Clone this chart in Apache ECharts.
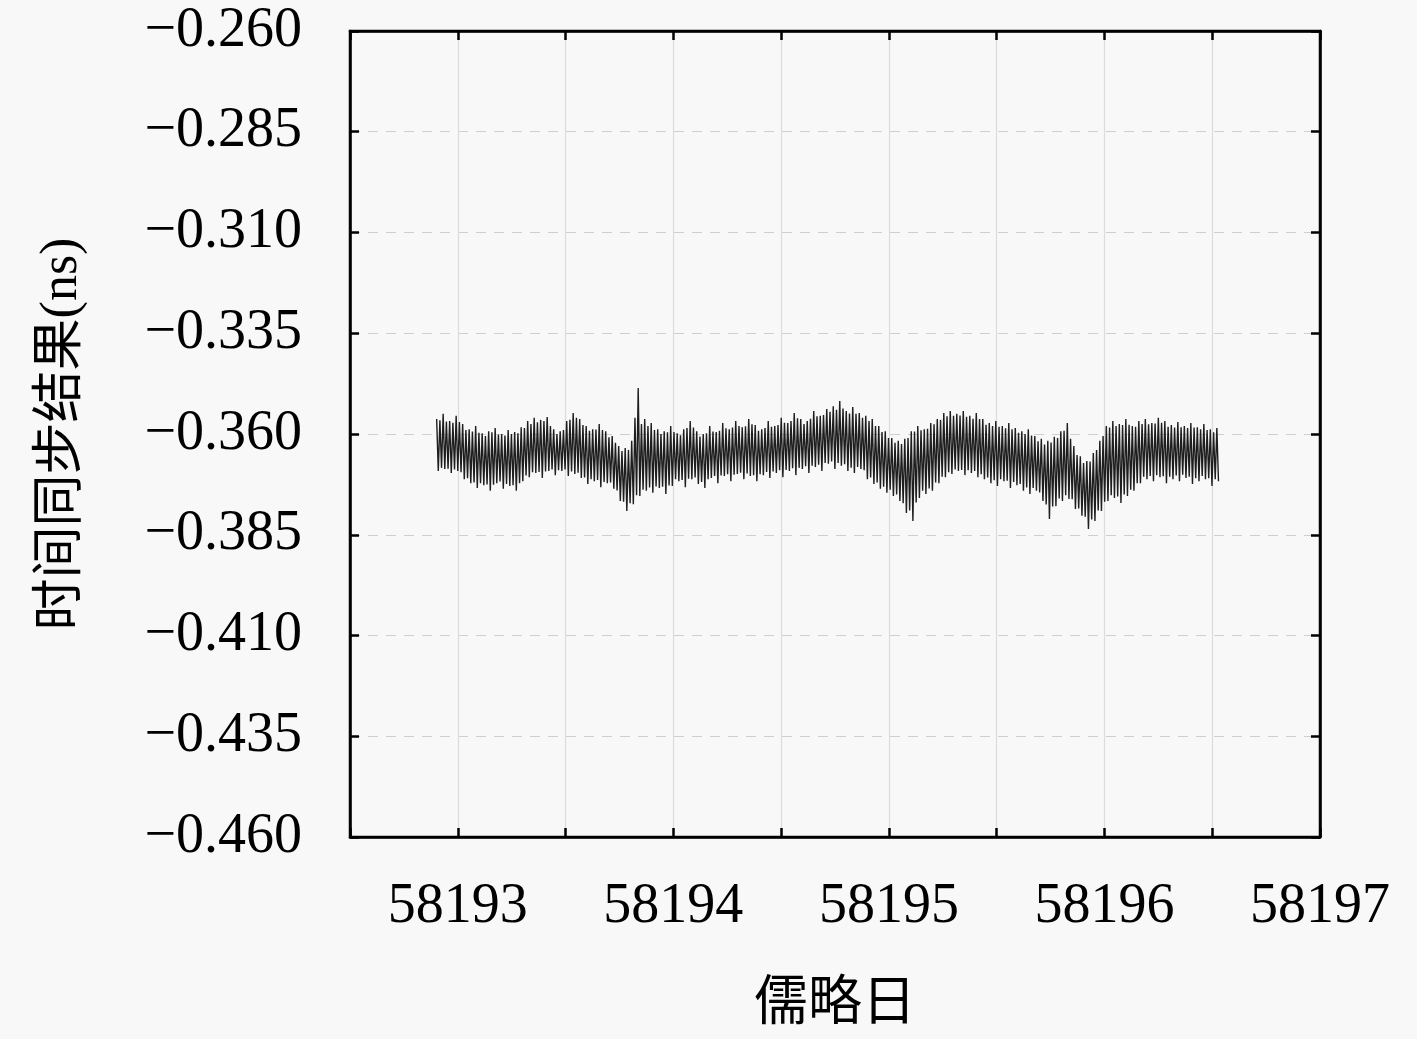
<!DOCTYPE html>
<html>
<head>
<meta charset="utf-8">
<script src="https://cdn.jsdelivr.net/npm/echarts@6/dist/echarts.min.js"></script>
<style>
  html, body { margin: 0; padding: 0; background: #f8f8f8; }
  #main { width: 1417px; height: 1039px; }
</style>
</head>
<body>
<div id="main"></div>
<script>
// 时间同步结果 (ns)，数据从图上读出：长笔画的上沿/下沿，以及其间较短笔画的上下端
var startDay = 58192.902;
var endDay = 58196.529;

var upperEdge = [
  -0.3563, -0.3550, -0.3568, -0.3555, -0.3575, -0.3588, -0.3580, -0.3598, -0.3593, -0.3585,
  -0.3600, -0.3590, -0.3595, -0.3583, -0.3568, -0.3560, -0.3565, -0.3558, -0.3588, -0.3593,
  -0.3568, -0.3548, -0.3563, -0.3580, -0.3588, -0.3575, -0.3593, -0.3605, -0.3630, -0.3635,
  -0.3617, -0.3486, -0.3563, -0.3573, -0.3588, -0.3593, -0.3580, -0.3598, -0.3588, -0.3568,
  -0.3593, -0.3600, -0.3580, -0.3595, -0.3573, -0.3588, -0.3568, -0.3583, -0.3563, -0.3578,
  -0.3588, -0.3568, -0.3580, -0.3560, -0.3573, -0.3548, -0.3563, -0.3568, -0.3543, -0.3555,
  -0.3538, -0.3531, -0.3518, -0.3543, -0.3533, -0.3548, -0.3555, -0.3563, -0.3580, -0.3593,
  -0.3610, -0.3617, -0.3612, -0.3593, -0.3580, -0.3588, -0.3573, -0.3563, -0.3548, -0.3543,
  -0.3550, -0.3543, -0.3555, -0.3548, -0.3563, -0.3573, -0.3568, -0.3580, -0.3573, -0.3585,
  -0.3593, -0.3588, -0.3605, -0.3612, -0.3617, -0.3607, -0.3593, -0.3573, -0.3630, -0.3655,
  -0.3667, -0.3647, -0.3617, -0.3580, -0.3568, -0.3575, -0.3563, -0.3580, -0.3568, -0.3563,
  -0.3573, -0.3560, -0.3568, -0.3578, -0.3570, -0.3580, -0.3573, -0.3583, -0.3575, -0.3588,
  -0.3585
];

var lowerEdge = [
  -0.3692, -0.3687, -0.3697, -0.3692, -0.3712, -0.3722, -0.3734, -0.3727, -0.3741, -0.3722,
  -0.3736, -0.3729, -0.3741, -0.3717, -0.3707, -0.3697, -0.3709, -0.3692, -0.3702, -0.3692,
  -0.3704, -0.3699, -0.3709, -0.3724, -0.3717, -0.3732, -0.3722, -0.3736, -0.3766, -0.3791,
  -0.3774, -0.3754, -0.3741, -0.3746, -0.3734, -0.3749, -0.3729, -0.3717, -0.3732, -0.3712,
  -0.3724, -0.3734, -0.3709, -0.3722, -0.3704, -0.3717, -0.3699, -0.3712, -0.3704, -0.3717,
  -0.3702, -0.3709, -0.3697, -0.3707, -0.3692, -0.3702, -0.3687, -0.3697, -0.3682, -0.3692,
  -0.3674, -0.3687, -0.3679, -0.3692, -0.3697, -0.3687, -0.3712, -0.3724, -0.3736, -0.3746,
  -0.3754, -0.3766, -0.3796, -0.3816, -0.3759, -0.3749, -0.3741, -0.3722, -0.3707, -0.3699,
  -0.3692, -0.3702, -0.3697, -0.3707, -0.3712, -0.3722, -0.3729, -0.3717, -0.3734, -0.3727,
  -0.3741, -0.3749, -0.3741, -0.3766, -0.3811, -0.3779, -0.3766, -0.3761, -0.3786, -0.3803,
  -0.3836, -0.3816, -0.3791, -0.3766, -0.3759, -0.3771, -0.3754, -0.3741, -0.3722, -0.3712,
  -0.3717, -0.3707, -0.3722, -0.3712, -0.3717, -0.3709, -0.3724, -0.3717, -0.3712, -0.3729,
  -0.3717
];

// 短笔画（位于上面每两根长笔画之间）
var upperShort = [
  -0.3566, -0.3569, -0.3572, -0.3570, -0.3590, -0.3594, -0.3597, -0.3605, -0.3596, -0.3601,
  -0.3604, -0.3600, -0.3598, -0.3585, -0.3575, -0.3571, -0.3568, -0.3580, -0.3600, -0.3590,
  -0.3565, -0.3560, -0.3578, -0.3592, -0.3589, -0.3590, -0.3608, -0.3622, -0.3642, -0.3640,
  -0.3560, -0.3575, -0.3580, -0.3590, -0.3600, -0.3596, -0.3595, -0.3603, -0.3585, -0.3584,
  -0.3606, -0.3598, -0.3594, -0.3592, -0.3586, -0.3584, -0.3580, -0.3581, -0.3576, -0.3592,
  -0.3585, -0.3582, -0.3578, -0.3572, -0.3568, -0.3561, -0.3575, -0.3562, -0.3556, -0.3553,
  -0.3545, -0.3540, -0.3537, -0.3549, -0.3550, -0.3560, -0.3568, -0.3580, -0.3595, -0.3610,
  -0.3622, -0.3625, -0.3610, -0.3594, -0.3591, -0.3587, -0.3576, -0.3565, -0.3556, -0.3555,
  -0.3554, -0.3557, -0.3562, -0.3563, -0.3577, -0.3580, -0.3582, -0.3586, -0.3588, -0.3597,
  -0.3600, -0.3604, -0.3618, -0.3626, -0.3621, -0.3610, -0.3592, -0.3612, -0.3652, -0.3672,
  -0.3668, -0.3640, -0.3605, -0.3584, -0.3580, -0.3578, -0.3577, -0.3582, -0.3575, -0.3576,
  -0.3574, -0.3572, -0.3582, -0.3584, -0.3583, -0.3585, -0.3584, -0.3588, -0.3590, -0.3596
];

var lowerShort = [
  -0.3684, -0.3686, -0.3688, -0.3695, -0.3710, -0.3720, -0.3722, -0.3725, -0.3726, -0.3718,
  -0.3724, -0.3727, -0.3722, -0.3703, -0.3695, -0.3694, -0.3693, -0.3688, -0.3690, -0.3688,
  -0.3693, -0.3696, -0.3708, -0.3712, -0.3714, -0.3719, -0.3720, -0.3740, -0.3768, -0.3772,
  -0.3752, -0.3738, -0.3733, -0.3730, -0.3731, -0.3728, -0.3712, -0.3714, -0.3711, -0.3708,
  -0.3719, -0.3712, -0.3704, -0.3703, -0.3700, -0.3701, -0.3696, -0.3698, -0.3702, -0.3700,
  -0.3694, -0.3693, -0.3690, -0.3689, -0.3685, -0.3684, -0.3680, -0.3679, -0.3676, -0.3672,
  -0.3668, -0.3672, -0.3675, -0.3684, -0.3682, -0.3690, -0.3708, -0.3720, -0.3731, -0.3738,
  -0.3750, -0.3772, -0.3790, -0.3770, -0.3741, -0.3735, -0.3720, -0.3706, -0.3695, -0.3688,
  -0.3689, -0.3690, -0.3692, -0.3700, -0.3708, -0.3715, -0.3712, -0.3716, -0.3719, -0.3724,
  -0.3733, -0.3734, -0.3745, -0.3775, -0.3780, -0.3760, -0.3752, -0.3762, -0.3785, -0.3805,
  -0.3812, -0.3790, -0.3768, -0.3752, -0.3755, -0.3750, -0.3738, -0.3722, -0.3706, -0.3704,
  -0.3702, -0.3705, -0.3706, -0.3703, -0.3701, -0.3706, -0.3710, -0.3704, -0.3710, -0.3712
];

var xTickDays = [58193, 58194, 58195, 58196, 58197];
var yTicks = [-0.460, -0.435, -0.410, -0.385, -0.360, -0.335, -0.310, -0.285, -0.260];

var serif = "'Liberation Serif', 'Noto Sans CJK SC', serif";

// 按时间顺序排列：长笔画上、下，短笔画上、下……
var values = [];
for (var i = 0; i < upperEdge.length; i++) {
  values.push(upperEdge[i], lowerEdge[i]);
  if (i < upperShort.length) values.push(upperShort[i], lowerShort[i]);
}
var step = (endDay - startDay) / (values.length - 1);
var points = values.map(function (v, k) { return [startDay + k * step, v]; });

function fmtY(v) {
  return '\u2212' + Math.abs(v).toFixed(3);
}
function fmtX(v) {
  for (var k = 0; k < xTickDays.length; k++) {
    if (Math.abs(v - xTickDays[k]) < 1e-6) return String(xTickDays[k]);
  }
  return '';
}

var myChart = echarts.init(document.getElementById('main'));

var tickStyle = { show: true, inside: true, length: 9, lineStyle: { color: '#000', width: 2.5 } };

var option = {
  backgroundColor: '#f8f8f8',
  animation: false,
  grid: {
    left: 350, right: 97, top: 31, bottom: 202,
    show: true, borderColor: '#000', borderWidth: 2.5, backgroundColor: 'transparent'
  },
  xAxis: [{
    type: 'value',
    min: 58192.5,
    max: 58197,
    interval: 0.5,
    name: '儒略日',
    nameLocation: 'middle',
    nameGap: 142,
    nameTextStyle: { fontFamily: serif, fontSize: 54, color: '#000' },
    axisLine: { show: true, onZero: false, lineStyle: { color: '#000', width: 2.5 } },
    axisTick: tickStyle,
    axisLabel: { formatter: fmtX, fontFamily: serif, fontSize: 56, color: '#000', margin: 42 },
    splitLine: { show: true, lineStyle: { color: '#dcdcdc', width: 1.2 } }
  }, {
    type: 'value',
    position: 'top',
    min: 58192.5,
    max: 58197,
    interval: 0.5,
    axisLine: { show: true, onZero: false, lineStyle: { color: '#000', width: 2.5 } },
    axisTick: tickStyle,
    axisLabel: { show: false },
    splitLine: { show: false }
  }],
  yAxis: [{
    type: 'value',
    min: yTicks[0],
    max: yTicks[yTicks.length - 1],
    interval: 0.025,
    name: '时间同步结果(ns)',
    nameLocation: 'middle',
    nameGap: 262,
    nameRotate: 90,
    nameTextStyle: { fontFamily: serif, fontSize: 52, color: '#000' },
    axisLine: { show: true, onZero: false, lineStyle: { color: '#000', width: 2.5 } },
    axisTick: tickStyle,
    axisLabel: { formatter: fmtY, fontFamily: serif, fontSize: 56, color: '#000', margin: 48 },
    splitLine: { show: true, lineStyle: { color: '#cfcfcf', width: 1.2, type: [10, 8] } }
  }, {
    type: 'value',
    position: 'right',
    min: yTicks[0],
    max: yTicks[yTicks.length - 1],
    interval: 0.025,
    axisLine: { show: true, onZero: false, lineStyle: { color: '#000', width: 2.5 } },
    axisTick: tickStyle,
    axisLabel: { show: false },
    splitLine: { show: false }
  }],
  series: [{
    type: 'line',
    data: points,
    showSymbol: false,
    sampling: null,
    lineStyle: { color: '#1e1e1e', width: 1.4 }
  }]
};

myChart.setOption(option);
</script>
</body>
</html>
